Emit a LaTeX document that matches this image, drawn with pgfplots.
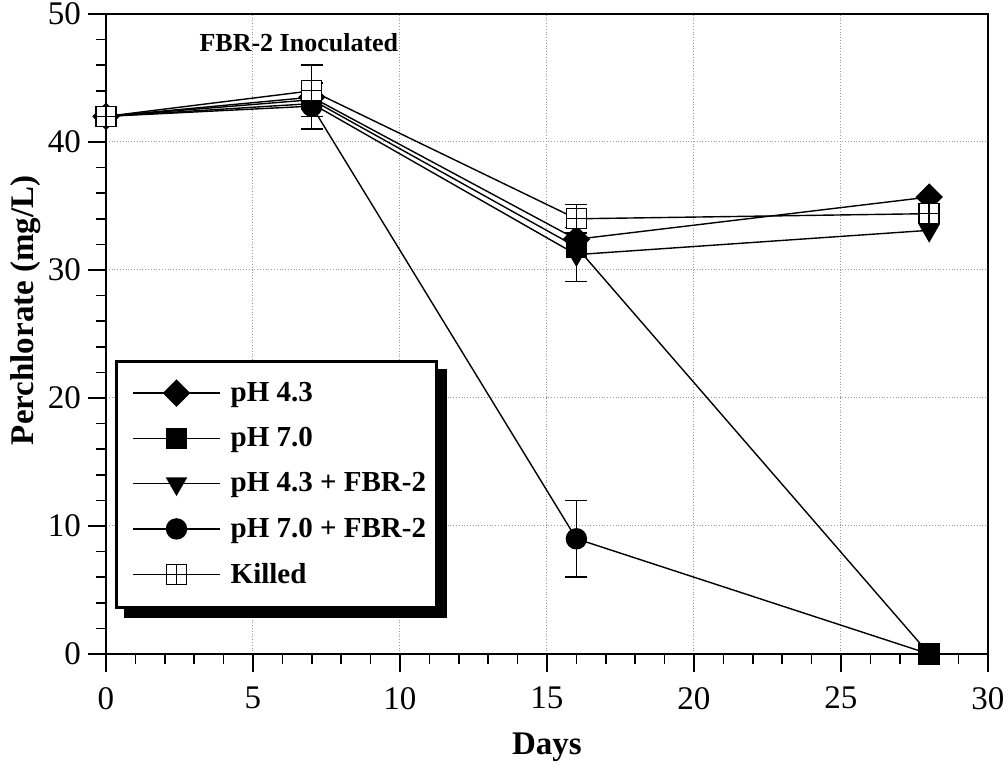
\documentclass[border=0pt]{standalone}
\usepackage{pgfplots}
\pgfplotsset{compat=1.18}
\usepackage{fontspec}
\setmainfont{Liberation Serif}
\pgfdeclareplotmark{boxplus}{%
  \pgfpathrectangle{\pgfqpoint{-\pgfplotmarksize}{-\pgfplotmarksize}}{\pgfqpoint{2\pgfplotmarksize}{2\pgfplotmarksize}}%
  \pgfusepathqfillstroke
  \pgfpathmoveto{\pgfqpoint{-\pgfplotmarksize}{0pt}}\pgfpathlineto{\pgfqpoint{\pgfplotmarksize}{0pt}}%
  \pgfpathmoveto{\pgfqpoint{0pt}{-\pgfplotmarksize}}\pgfpathlineto{\pgfqpoint{0pt}{\pgfplotmarksize}}%
  \pgfusepathqstroke}
\begin{document}
\begin{tikzpicture}
\useasboundingbox (-53pt,-62.5pt) rectangle (451pt,327pt);
\begin{axis}[
  at={(0,0)}, anchor=south west, scale only axis, width=441pt, height=320pt,
  xmin=0, xmax=30, ymin=0, ymax=50,
  xtick={0,5,...,30}, ytick={0,10,...,50},
  minor x tick num=4, minor y tick num=4,
  tick align=outside, tick pos=left,
  major tick length=9pt, minor tick length=5pt,
  every tick/.style={black, line width=0.8pt},
  grid=major, major grid style={densely dotted, gray!80, line width=0.5pt},
  axis line style={line width=1pt},
  ticklabel style={font=\fontsize{16.5}{18}\selectfont},
  xticklabel style={yshift=-4pt},
  /pgf/number format/assume math mode=true,
  xlabel={\textbf{Days}},
  xlabel style={at={(axis description cs:0.5,0)}, anchor=center, yshift=-46.5pt, font=\fontsize{16.5}{18}\selectfont},
  ylabel={\textbf{Perchlorate (mg/L)}},
  ylabel style={at={(axis description cs:-0.0907,0.537)}, anchor=center, font=\fontsize{16.5}{18}\selectfont},
  legend style={name=L, at={(axis cs:0.3,23)}, anchor=north west, draw=black, line width=1.5pt, fill=white,
    font=\fontsize{14.5}{17}\bfseries\selectfont, row sep=7.5pt, inner xsep=3pt, inner ysep=8.5pt,
    cells={anchor=west}, nodes={inner sep=2pt},
    /tikz/every odd column/.append style={column sep=3pt}},
  legend image code/.code={\path (0pt,0pt); \draw[line width=0.7pt, mark repeat=2, mark phase=2] plot coordinates {(5pt,0pt) (26.75pt,0pt) (48.5pt,0pt)};},
]
% error bars
\addplot[only marks, mark=none, forget plot, error bars/.cd, y dir=both, y explicit,
  error bar style={black, line width=0.7pt, solid},
  error mark options={black, line width=0.7pt, mark size=5.5pt, rotate=90}]
  coordinates {(7,44) +- (0,2) (7,42.8) +- (0,1.8) (16,34) +- (0,1.1) (16,31.2) +- (0,2.1) (16,9) +- (0,3)};

\addplot[black, line width=0.7pt, mark=square*, mark size=4.5pt, mark options={rotate=45, fill=black, solid}]
  coordinates {(0,42) (7,43.5) (16,32.4) (28,35.7)};
\addlegendentry{pH 4.3}
\addplot[black, line width=0.7pt, mark=square*, mark size=5pt, mark options={fill=black, solid}]
  coordinates {(0,42) (7,43.3) (16,31.8) (28,0)};
\addlegendentry{pH 7.0}
\addplot[black, line width=0.7pt, mark=triangle*, mark size=5.5pt, mark options={rotate=180, fill=black, solid}]
  coordinates {(0,42) (7,43) (16,31.2) (28,33.1)};
\addlegendentry{pH 4.3 + FBR-2}
\addplot[black, line width=0.7pt, mark=*, mark size=5pt, mark options={fill=black, solid}]
  coordinates {(0,42) (7,42.8) (16,9) (28,0)};
\addlegendentry{pH 7.0 + FBR-2}
\addplot[black, line width=0.7pt, mark=boxplus, mark size=5pt, mark options={fill=white, solid, line width=0.7pt}]
  coordinates {(0,42) (7,44) (16,34) (28,34.4)};
\addlegendentry{Killed}

\node[font=\fontsize{13}{15}\bfseries\selectfont] at (axis cs:6.56,47.8) {FBR-2 Inoculated};
\end{axis}
\fill[black] ([yshift=-4.5pt]L.north east) rectangle ([xshift=4.5pt,yshift=-4.5pt]L.south east);
\fill[black] ([xshift=4.5pt]L.south west) rectangle ([xshift=4.5pt,yshift=-4.5pt]L.south east);
\end{tikzpicture}
\end{document}
